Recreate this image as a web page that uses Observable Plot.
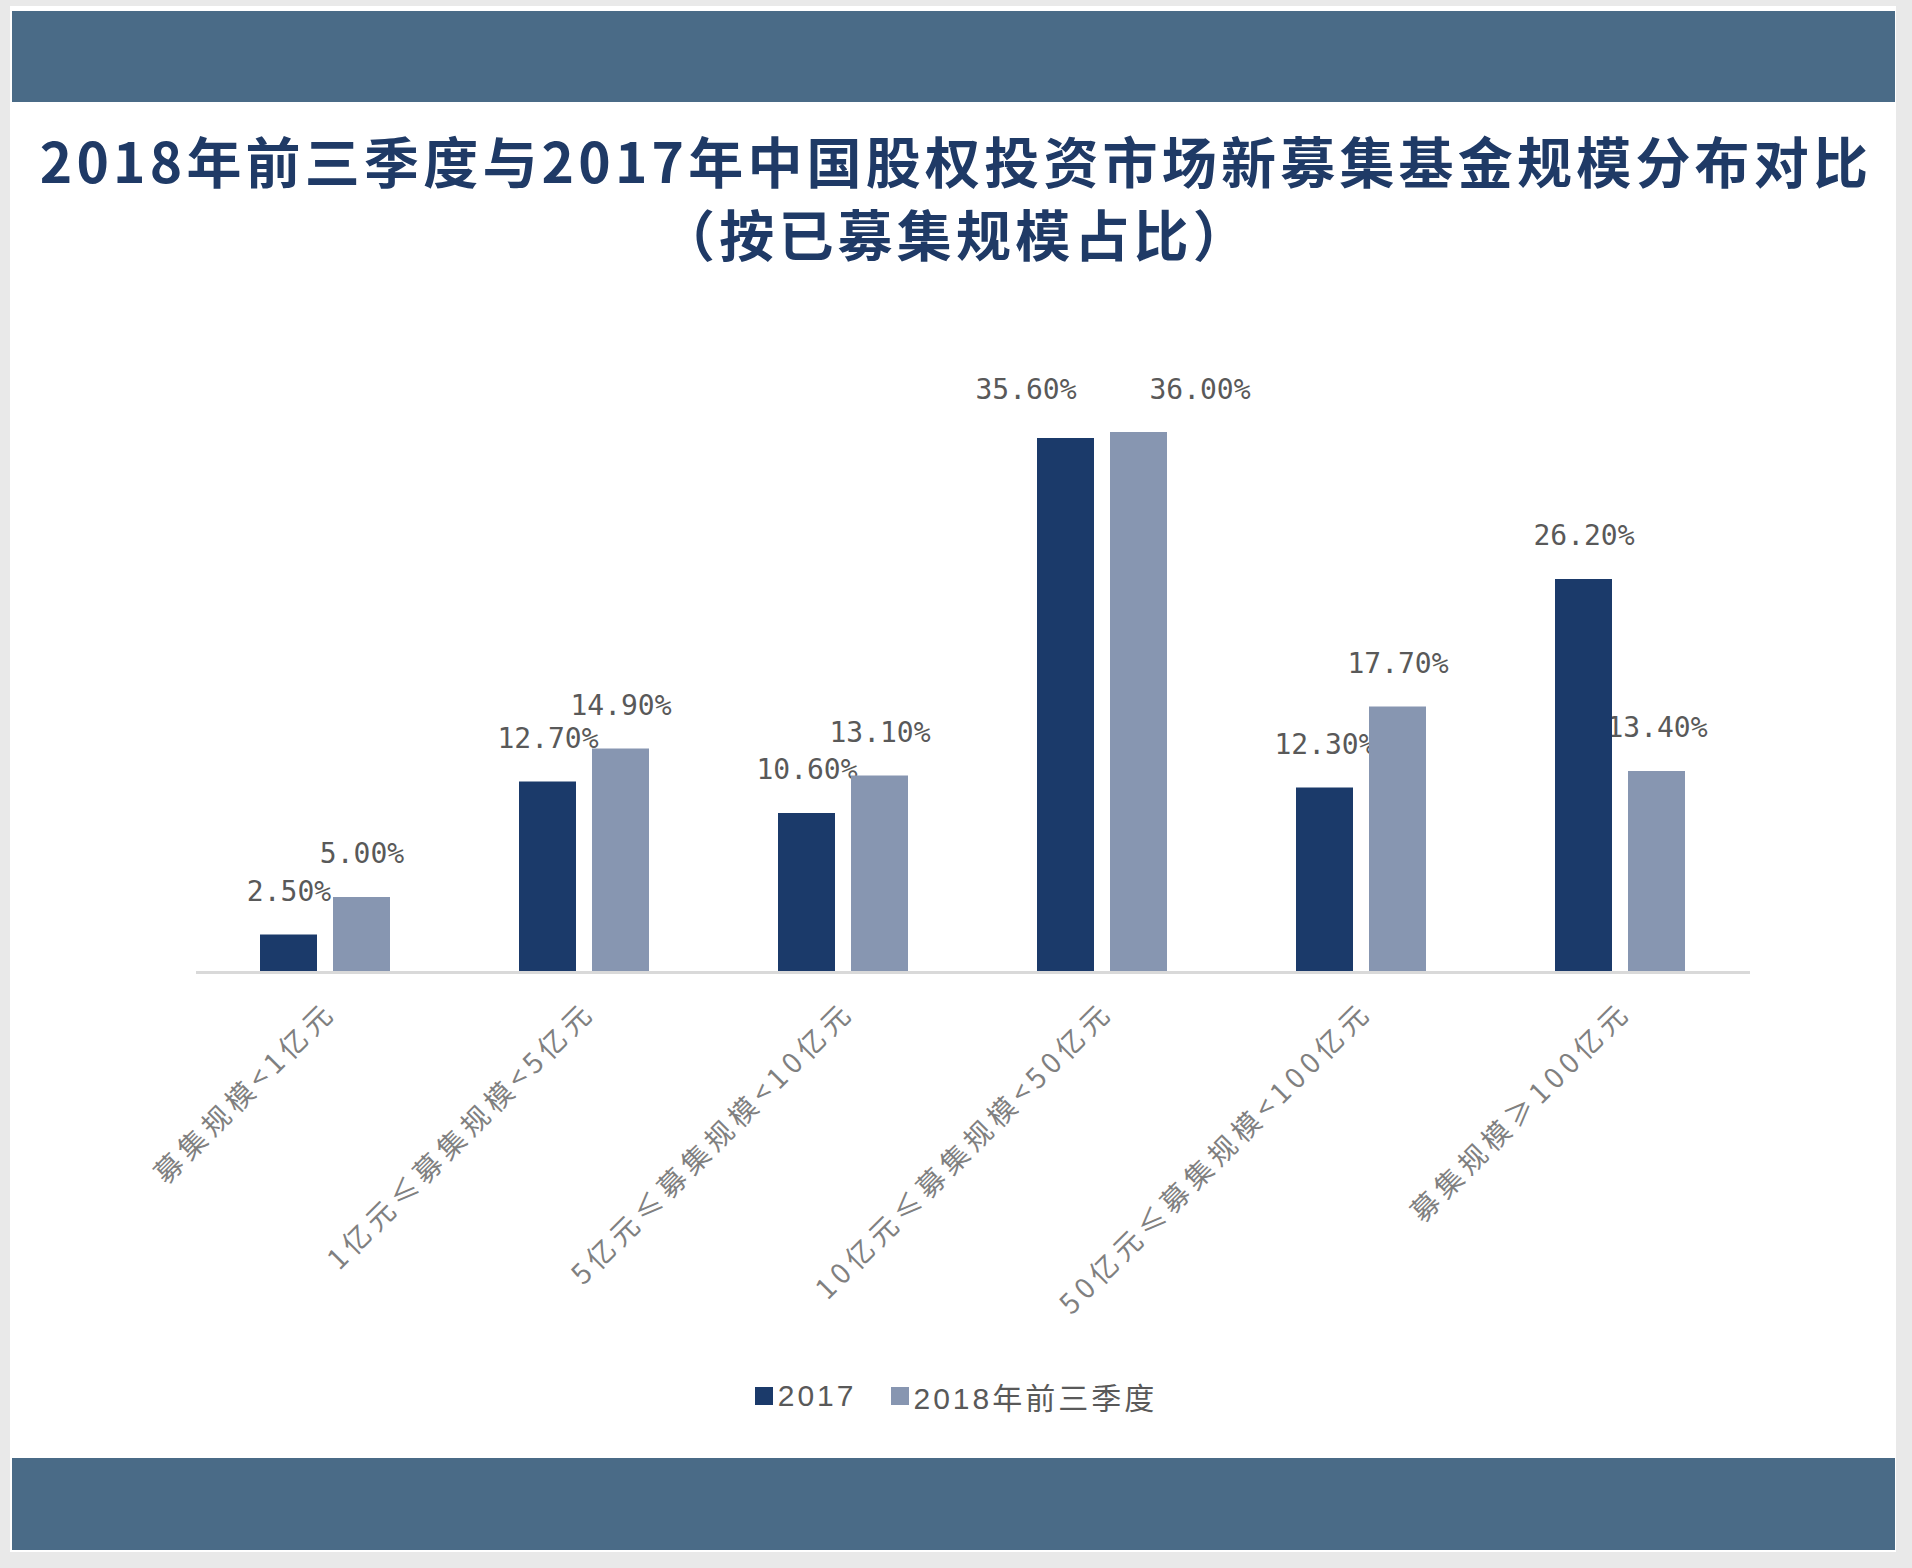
<!DOCTYPE html>
<html>
<head>
<meta charset="utf-8">
<script src="https://cdn.jsdelivr.net/npm/d3@7"></script>
<script src="https://cdn.jsdelivr.net/npm/@observablehq/plot@0.6"></script>
<style>
  html, body { margin: 0; padding: 0; }
  body { width: 1912px; height: 1568px; background: #e9e9e9; position: relative; overflow: hidden; font-family: "Noto Sans CJK SC", "Noto Sans", sans-serif; }
  #card { position: absolute; left: 10px; top: 6px; width: 1886px; height: 1546px; background: #ffffff; }
  .band { position: absolute; left: 12px; width: 1883px; background: #4a6b87; }
  #topband { top: 11px; height: 91px; }
  #botband { top: 1458px; height: 92px; }
  .title { position: absolute; left: 0; width: 1912px; height: 72px; overflow: visible; text-align: center; color: #1f3a66; font-weight: 700; font-size: 55px; line-height: 72px; letter-spacing: 4.2px; white-space: nowrap; }
  #title1 { top: 123px; }
  #title2 { top: 196px; }
  #chart { position: absolute; left: 0; top: 280px; }
  #legend { position: absolute; left: 0; top: 1374px; width: 1912px; display: flex; justify-content: center; }
  .lg-swatch > svg { margin-right: 5px !important; }
  .lg-swatch { margin-right: 34px !important; }
  .lg-swatch:last-child { margin-right: 0 !important; }
</style>
</head>
<body>
<div id="card"></div>
<div id="topband" class="band"></div>
<div id="title1" class="title">2018年前三季度与2017年中国股权投资市场新募集基金规模分布对比</div>
<div id="title2" class="title">（按已募集规模占比）</div>
<div id="chart"></div>
<div id="legend"></div>
<div id="botband" class="band"></div>
<script>
const categories = [
  "募集规模<1亿元",
  "1亿元≤募集规模<5亿元",
  "5亿元≤募集规模<10亿元",
  "10亿元≤募集规模<50亿元",
  "50亿元≤募集规模<100亿元",
  "募集规模≥100亿元"
];
const series = ["2017", "2018年前三季度"];
const values2017 = [2.5, 12.7, 10.6, 35.6, 12.3, 26.2];
const values2018 = [5.0, 14.9, 13.1, 36.0, 17.7, 13.4];
const colors = ["#1b3a6a", "#8796b1"];

const data = categories.flatMap((c, i) => [
  {category: c, series: series[0], value: values2017[i]},
  {category: c, series: series[1], value: values2018[i]}
]);

// the tallest group: its two value labels are pushed apart so they do not collide
const crowded = categories[3];
const labelText = d => d.value.toFixed(2) + "%";
const labelStyle = {fx: "category", x: "series", y: "value", text: labelText,
  fontSize: 28, fontFamily: "DejaVu Sans Mono", fill: "#595959"};

const chart = Plot.plot({
  width: 1912,
  height: 1060,
  marginLeft: 195,
  marginRight: 162,
  marginTop: 92,
  marginBottom: 368,
  style: {background: "transparent", fontFamily: "'Noto Sans CJK SC', sans-serif"},
  fx: {domain: categories, padding: 0, axis: null},
  x: {domain: series, paddingInner: 0.2162, paddingOuter: 0.8597, axis: null},
  y: {domain: [0, 40], axis: null},
  color: {domain: series, range: colors},
  marks: [
    Plot.text(data, {...labelStyle, filter: d => d.category !== crowded, dy: -43}),
    Plot.text(data, {...labelStyle, filter: d => d.category === crowded && d.series === series[0], dx: -40, dy: -48}),
    Plot.text(data, {...labelStyle, filter: d => d.category === crowded && d.series === series[1], dx: 61, dy: -42}),
    Plot.barY(data, {fx: "category", x: "series", y: "value", fill: "series"}),
    Plot.ruleY([0], {stroke: "#d9d9d9", strokeWidth: 3}),
    Plot.text(categories, {
      fx: d => d, text: d => d, frameAnchor: "bottom",
      rotate: -45, textAnchor: "end", dx: 12, dy: 41,
      fontSize: 28, fill: "#808080"
    })
  ]
});
d3.select(chart).selectAll("text")
  .filter(function () { return categories.includes(this.textContent); })
  .style("letter-spacing", "5.5px");
document.getElementById("chart").appendChild(chart);

const legend = Plot.legend({
  color: {domain: series, range: colors},
  swatchSize: 18,
  className: "lg",
  style: {fontSize: "30px", color: "#595959", fontFamily: "'Liberation Sans', 'Noto Sans CJK SC', sans-serif", letterSpacing: "3px"}
});
document.getElementById("legend").appendChild(legend);
</script>
</body>
</html>
